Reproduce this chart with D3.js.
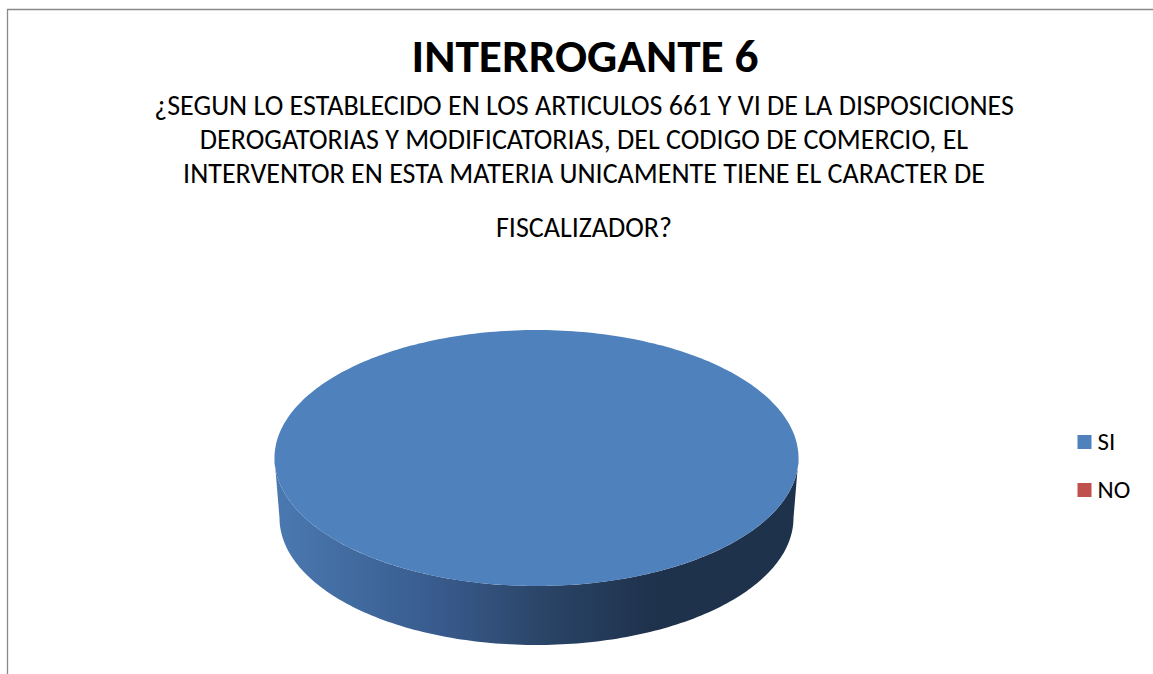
<!DOCTYPE html>
<html>
<head>
<meta charset="utf-8">
<script src="https://cdn.jsdelivr.net/npm/d3@7"></script>
<style>
  body { margin: 0; background: #fff; }
  svg { display: block; font-family: Carlito, "Open Sans", "Noto Sans", sans-serif; }
</style>
</head>
<body>
<div id="chart"></div>
<script>
// chart data
const categories = ["SI", "NO"];
const values = [100, 0];
const sliceColors = ["#4f81bd", "#c0504d"];
const titleText = "INTERROGANTE 6";
const subtitleLines = [
  "¿SEGUN LO ESTABLECIDO EN LOS ARTICULOS 661 Y VI DE LA DISPOSICIONES",
  "DEROGATORIAS Y MODIFICATORIAS, DEL CODIGO DE COMERCIO, EL",
  "INTERVENTOR EN ESTA MATERIA UNICAMENTE TIENE EL CARACTER DE",
  "FISCALIZADOR?"
];

const config = {
  width: 1153,
  height: 674,
  cx: 536.5,
  cy: 458,
  rx: 262,
  ry: 128,
  // bottom rim of the disc (slightly smaller, perspective)
  cyB: 518,
  rxB: 257,
  ryB: 127,
  titleWidth: 347,
  subWidth: 860
};

const svg = d3.select("#chart").append("svg")
    .attr("width", config.width)
    .attr("height", config.height);

// frame lines (top + left)
svg.append("path")
    .attr("d", `M${config.width},9.5 H7.5 V${config.height}`)
    .attr("fill", "none")
    .attr("stroke", "#898989")
    .attr("stroke-width", 1.3);

// title
const title = svg.append("text")
    .attr("x", 585)
    .attr("y", 72)
    .attr("text-anchor", "middle")
    .attr("font-size", 36)
    .attr("font-weight", "bold")
    .attr("fill", "#000")
    .text(titleText);

// scale the font so the text spans the same width as the original
let tw = title.node().getComputedTextLength();
title.attr("font-size", 36 * config.titleWidth / tw);

const subY = [115, 149, 183, 237];
const subs = svg.selectAll(".sub")
  .data(subtitleLines)
  .join("text")
    .attr("class", "sub")
    .attr("x", 584)
    .attr("y", (d, i) => subY[i])
    .attr("text-anchor", "middle")
    .attr("font-size", 22)
    .attr("fill", "#000")
    .text(d => d);

let sw = subs.node().getComputedTextLength();
subs.attr("font-size", 22 * config.subWidth / sw);

const color = d3.scaleOrdinal().domain(categories).range(sliceColors);

// pie angles, starting at 12 o'clock and going clockwise
const pie = d3.pie().sort(null).value(d => d.value);
const arcs = pie(categories.map((c, i) => ({name: c, value: values[i]})))
    .filter(d => d.endAngle - d.startAngle > 0);

const topPt = a => [config.cx + config.rx * Math.sin(a), config.cy - config.ry * Math.cos(a)];
const botPt = a => [config.cx + config.rxB * Math.sin(a), config.cyB - config.ryB * Math.cos(a)];

function sampled(fn, a0, a1) {
  const n = Math.max(2, Math.ceil((a1 - a0) / 0.02));
  return d3.range(n + 1).map(i => fn(a0 + (a1 - a0) * i / n));
}

const line = d3.line();

// side gradient (light on the left, dark to the right)
const defs = svg.append("defs");
const grad = defs.append("linearGradient")
    .attr("id", "side-grad")
    .attr("gradientUnits", "userSpaceOnUse")
    .attr("x1", config.cx - config.rx).attr("x2", config.cx + config.rx)
    .attr("y1", 0).attr("y2", 0);
[[0, "#4a79b1"], [0.33, "#37598a"], [0.5, "#2b4669"], [0.72, "#1f324c"], [1, "#1f324c"]]
  .forEach(s => grad.append("stop").attr("offset", s[0]).attr("stop-color", s[1]));

// side walls (front visible part of each slice's outer rim)
arcs.forEach(d => {
  const a0 = Math.max(d.startAngle, Math.PI / 2);
  const a1 = Math.min(d.endAngle, 3 * Math.PI / 2);
  if (a1 <= a0) return;
  const pts = sampled(topPt, a0, a1).concat(sampled(botPt, a0, a1).reverse());
  svg.append("path")
      .attr("d", line(pts) + "Z")
      .attr("fill", d.data.name === "SI" ? "url(#side-grad)" : d3.color(color(d.data.name)).darker(1));
});

// top faces
svg.selectAll(".slice-top")
  .data(arcs)
  .join("path")
    .attr("class", "slice-top")
    .attr("d", d => {
      const full = d.endAngle - d.startAngle >= 2 * Math.PI - 1e-6;
      const pts = sampled(topPt, d.startAngle, d.endAngle);
      return full ? line(pts) + "Z" : line([[config.cx, config.cy], ...pts]) + "Z";
    })
    .attr("fill", d => color(d.data.name));

// legend
const legend = svg.selectAll(".legend")
  .data(categories)
  .join("g")
    .attr("class", "legend")
    .attr("transform", (d, i) => `translate(1077.5, ${435 + i * 48})`);

legend.append("rect")
    .attr("width", 14)
    .attr("height", 14)
    .attr("fill", d => color(d));

legend.append("text")
    .attr("x", 20)
    .attr("y", 15)
    .attr("font-size", 25)
    .attr("fill", "#000")
    .text(d => d);
</script>
</body>
</html>
